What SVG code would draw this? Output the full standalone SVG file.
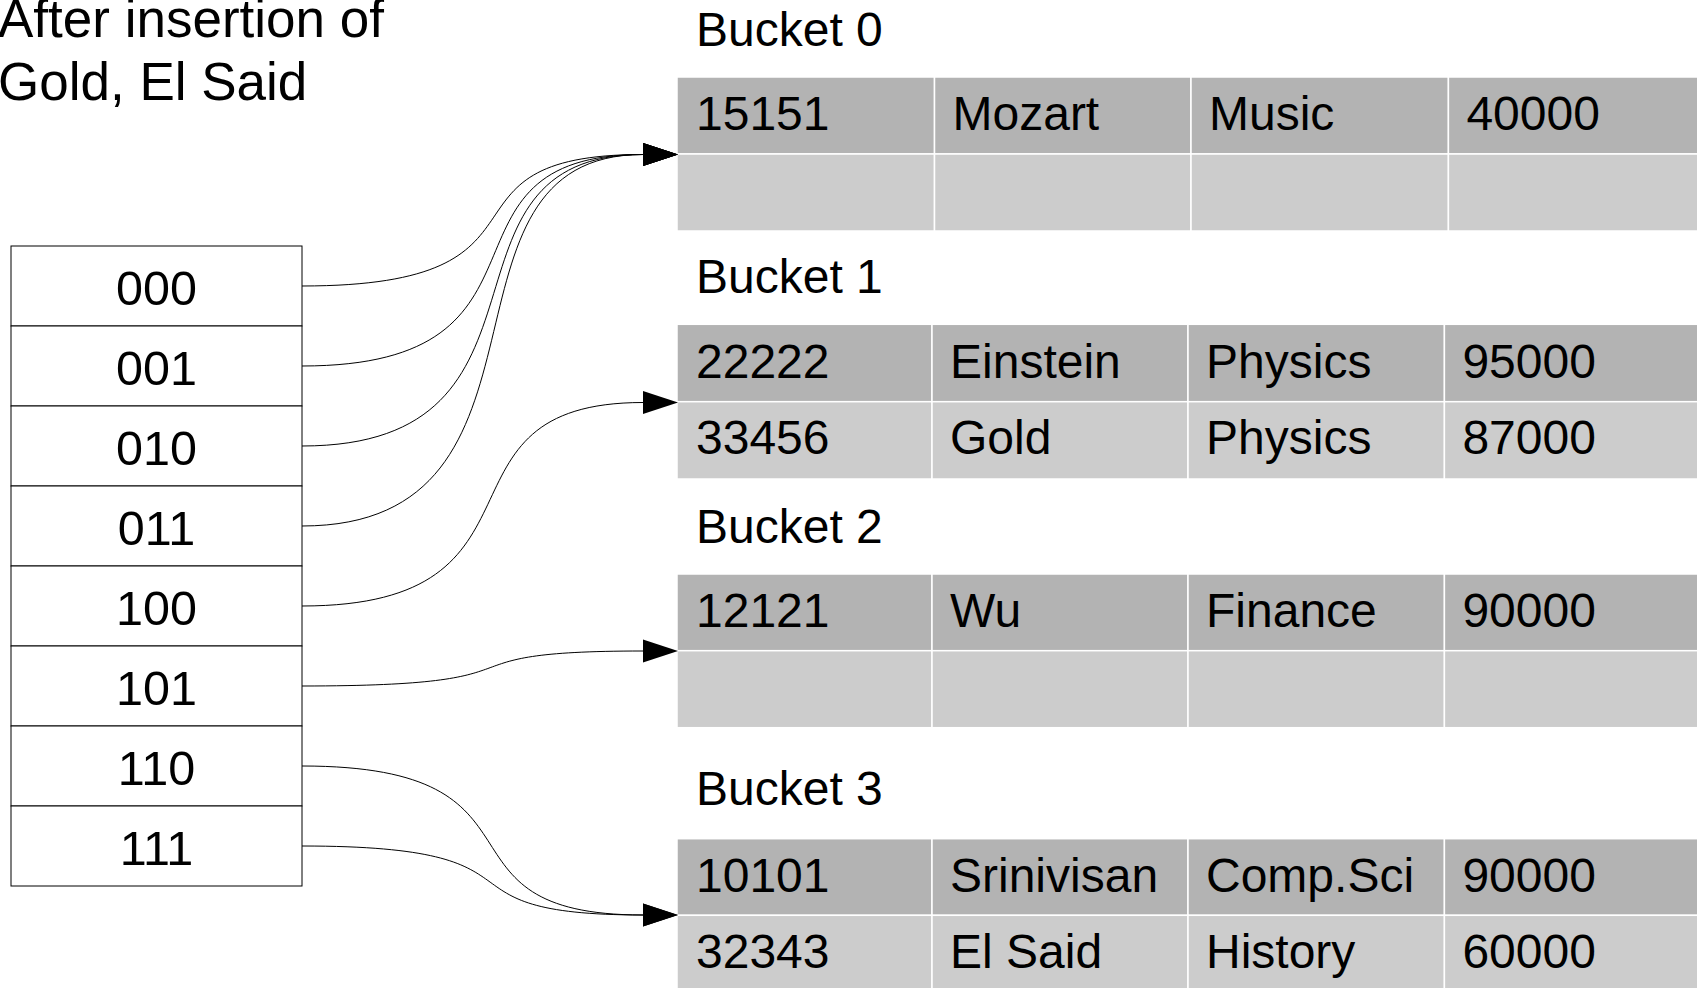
<svg xmlns="http://www.w3.org/2000/svg" width="1697" height="988" viewBox="0 0 1697 988">
<style>
text{font-family:"Liberation Sans",Arial,sans-serif;fill:#000}
.t{font-size:53px}
.h{font-size:48.5px;text-anchor:middle}
.b{font-size:48px}
.d{fill:#b3b3b3;stroke:#fff;stroke-width:1.5}
.l{fill:#cccccc;stroke:#fff;stroke-width:1.5}
.c{fill:none;stroke:#000;stroke-width:1}
.cell{fill:#fff;stroke:#000;stroke-width:1}
</style>
<defs>
<marker id="arr" markerUnits="userSpaceOnUse" viewBox="0 -12 35 24" markerWidth="35" markerHeight="24" refX="0" refY="0" orient="auto">
<path d="M0,-11.5 L35,0 L0,11.5 Z" fill="#000"/>
</marker>
</defs>
<rect width="1697" height="988" fill="#fff"/>
<g id="title">
<text class="t" x="-2" y="37">After insertion of</text>
<text class="t" x="-2" y="100">Gold, El Said</text>
</g>
<g id="hashtable">
<rect class="cell" x="11" y="246" width="291" height="80"/>
<rect class="cell" x="11" y="326" width="291" height="80"/>
<rect class="cell" x="11" y="406" width="291" height="80"/>
<rect class="cell" x="11" y="486" width="291" height="80"/>
<rect class="cell" x="11" y="566" width="291" height="80"/>
<rect class="cell" x="11" y="646" width="291" height="80"/>
<rect class="cell" x="11" y="726" width="291" height="80"/>
<rect class="cell" x="11" y="806" width="291" height="80"/>
<text class="h" x="156.5" y="305">000</text>
<text class="h" x="156.5" y="385">001</text>
<text class="h" x="156.5" y="465">010</text>
<text class="h" x="156.5" y="545">011</text>
<text class="h" x="156.5" y="625">100</text>
<text class="h" x="156.5" y="705">101</text>
<text class="h" x="156.5" y="785">110</text>
<text class="h" x="156.5" y="865">111</text>
</g>
<g id="bucket0">
<text class="b" x="696" y="46">Bucket 0</text>
<rect class="d" x="677" y="77" width="257.5" height="77"/>
<rect class="d" x="934.5" y="77" width="256.5" height="77"/>
<rect class="d" x="1191" y="77" width="257.4" height="77"/>
<rect class="d" x="1448.4" y="77" width="270" height="77"/>
<rect class="l" x="677" y="154" width="257.5" height="77"/>
<rect class="l" x="934.5" y="154" width="256.5" height="77"/>
<rect class="l" x="1191" y="154" width="257.4" height="77"/>
<rect class="l" x="1448.4" y="154" width="270" height="77"/>
<text class="b" x="696" y="130">15151</text>
<text class="b" x="952.5" y="130">Mozart</text>
<text class="b" x="1209" y="130">Music</text>
<text class="b" x="1466.4" y="130">40000</text>
</g>
<g id="bucket1">
<text class="b" x="696" y="293">Bucket 1</text>
<rect class="d" x="677" y="324.3" width="255" height="77.4"/>
<rect class="d" x="932" y="324.3" width="256" height="77.4"/>
<rect class="d" x="1188" y="324.3" width="256.4" height="77.4"/>
<rect class="d" x="1444.4" y="324.3" width="270" height="77.4"/>
<rect class="l" x="677" y="401.7" width="255" height="77.3"/>
<rect class="l" x="932" y="401.7" width="256" height="77.3"/>
<rect class="l" x="1188" y="401.7" width="256.4" height="77.3"/>
<rect class="l" x="1444.4" y="401.7" width="270" height="77.3"/>
<text class="b" x="696" y="378.3">22222</text>
<text class="b" x="950" y="378.3">Einstein</text>
<text class="b" x="1206" y="378.3">Physics</text>
<text class="b" x="1462.4" y="378.3">95000</text>
<text class="b" x="696" y="454.3">33456</text>
<text class="b" x="950" y="454.3">Gold</text>
<text class="b" x="1206" y="454.3">Physics</text>
<text class="b" x="1462.4" y="454.3">87000</text>
</g>
<g id="bucket2">
<text class="b" x="696" y="543">Bucket 2</text>
<rect class="d" x="677" y="574" width="255" height="76.7"/>
<rect class="d" x="932" y="574" width="256" height="76.7"/>
<rect class="d" x="1188" y="574" width="256.4" height="76.7"/>
<rect class="d" x="1444.4" y="574" width="270" height="76.7"/>
<rect class="l" x="677" y="650.7" width="255" height="77"/>
<rect class="l" x="932" y="650.7" width="256" height="77"/>
<rect class="l" x="1188" y="650.7" width="256.4" height="77"/>
<rect class="l" x="1444.4" y="650.7" width="270" height="77"/>
<text class="b" x="696" y="626.7">12121</text>
<text class="b" x="950" y="626.7">Wu</text>
<text class="b" x="1206" y="626.7">Finance</text>
<text class="b" x="1462.4" y="626.7">90000</text>
</g>
<g id="bucket3">
<text class="b" x="696" y="805">Bucket 3</text>
<rect class="d" x="677" y="838.7" width="255" height="76.6"/>
<rect class="d" x="932" y="838.7" width="256" height="76.6"/>
<rect class="d" x="1188" y="838.7" width="256.4" height="76.6"/>
<rect class="d" x="1444.4" y="838.7" width="270" height="76.6"/>
<rect class="l" x="677" y="915.3" width="255" height="80"/>
<rect class="l" x="932" y="915.3" width="256" height="80"/>
<rect class="l" x="1188" y="915.3" width="256.4" height="80"/>
<rect class="l" x="1444.4" y="915.3" width="270" height="80"/>
<text class="b" x="696" y="891.7">10101</text>
<text class="b" x="950" y="891.7">Srinivisan</text>
<text class="b" x="1206" y="891.7">Comp.Sci</text>
<text class="b" x="1462.4" y="891.7">90000</text>
<text class="b" x="696" y="968.3">32343</text>
<text class="b" x="950" y="968.3">El Said</text>
<text class="b" x="1206" y="968.3">History</text>
<text class="b" x="1462.4" y="968.3">60000</text>
</g>
<g id="connectors">
<path class="c" marker-end="url(#arr)" d="M302,286 C578,286 418,154.5 643,154.5"/>
<path class="c" marker-end="url(#arr)" d="M302,366 C578,366 418,154.5 643,154.5"/>
<path class="c" marker-end="url(#arr)" d="M302,446 C578,446 418,154.5 643,154.5"/>
<path class="c" marker-end="url(#arr)" d="M302,526 C578,526 418,154.5 643,154.5"/>
<path class="c" marker-end="url(#arr)" d="M302,606 C567,606 419,402.5 643,402.5"/>
<path class="c" marker-end="url(#arr)" d="M302,686 C567,686 419,651 643,651"/>
<path class="c" marker-end="url(#arr)" d="M302,766 C567,766 419,915 643,915"/>
<path class="c" marker-end="url(#arr)" d="M302,846 C567,846 419,915 643,915"/>
</g>
</svg>
